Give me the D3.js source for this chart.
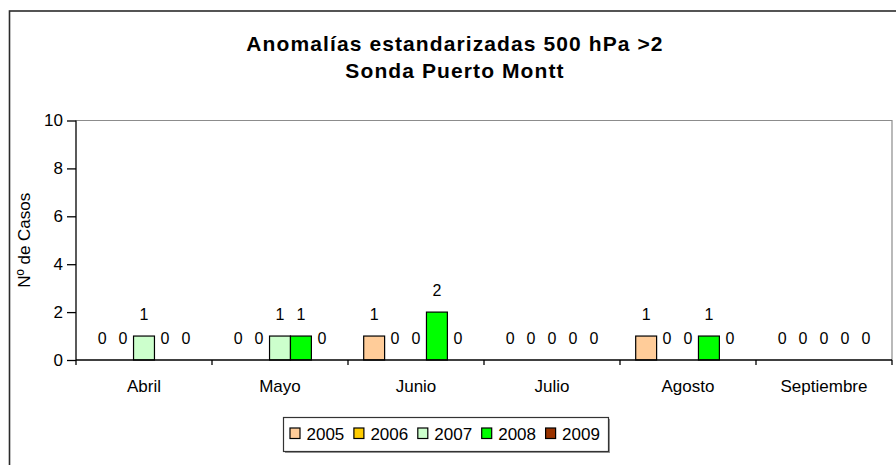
<!DOCTYPE html>
<html>
<head>
<meta charset="utf-8">
<script src="https://cdn.jsdelivr.net/npm/d3@7"></script>
<style>
  body { margin: 0; background: #fff; }
  svg text { font-family: Arial, "Liberation Sans", sans-serif; fill: #000; }
</style>
</head>
<body>
<div id="chart"></div>
<script>
// data
var months = ["Abril", "Mayo", "Junio", "Julio", "Agosto", "Septiembre"];
var years = ["2005", "2006", "2007", "2008", "2009"];
var colors = ["#FFCC99", "#FFCC00", "#CCFFCC", "#00FF00", "#993300"];
var v2005 = [0, 0, 1, 0, 1, 0];
var v2006 = [0, 0, 0, 0, 0, 0];
var v2007 = [1, 1, 0, 0, 0, 0];
var v2008 = [0, 1, 2, 0, 1, 0];
var v2009 = [0, 0, 0, 0, 0, 0];
var yTicks = [0, 2, 4, 6, 8, 10];

var series = [v2005, v2006, v2007, v2008, v2009];

var W = 896, H = 465;
var plot = {left: 76, right: 892, top: 120.5, bottom: 360};

var svg = d3.select("#chart").append("svg")
    .attr("width", W)
    .attr("height", H);

// outer chart frame (runs past right and bottom edge)
svg.append("rect")
    .attr("x", 9.5).attr("y", 11)
    .attr("width", 900).attr("height", 470)
    .attr("fill", "none")
    .attr("stroke", "#2b2b2b")
    .attr("stroke-width", 1.6);

// title
var title = svg.append("text")
    .attr("text-anchor", "middle")
    .style("font-weight", "bold")
    .style("font-size", "21px")
    .style("letter-spacing", "1.1px");
title.append("tspan").attr("x", 455).attr("y", 51).text("Anomalías estandarizadas 500 hPa >2");
title.append("tspan").attr("x", 455).attr("y", 78).text("Sonda Puerto Montt");

var x0 = d3.scaleBand()
    .domain(months)
    .range([plot.left, plot.right])
    .padding(0);

var x1 = d3.scaleBand()
    .domain(years)
    .range([0, x0.bandwidth()])
    .paddingInner(0)
    .paddingOuter(0.75);

var y = d3.scaleLinear()
    .domain([0, 10])
    .range([plot.bottom, plot.top]);

// plot area border (top and right)
svg.append("path")
    .attr("d", "M" + plot.left + "," + y(10) + "H" + plot.right + "V" + plot.bottom)
    .attr("fill", "none")
    .attr("stroke", "#8c8c8c")
    .attr("stroke-width", 1.2);

// bars
var groups = svg.selectAll(".month")
    .data(months)
    .enter()
    .append("g")
    .attr("class", "month")
    .attr("transform", function(d) { return "translate(" + x0(d) + ",0)"; });

groups.selectAll("rect")
    .data(function(m, i) {
        return years.map(function(yr, j) { return {year: yr, j: j, v: series[j][i]}; });
    })
    .enter()
    .filter(function(d) { return d.v > 0; })
    .append("rect")
    .attr("x", function(d) { return x1(d.year); })
    .attr("y", function(d) { return y(d.v); })
    .attr("width", x1.bandwidth())
    .attr("height", function(d) { return y(0) - y(d.v); })
    .attr("fill", function(d) { return colors[d.j]; })
    .attr("stroke", "#000")
    .attr("stroke-width", 1.2);

// value labels
groups.selectAll("text")
    .data(function(m, i) {
        return years.map(function(yr, j) { return {year: yr, j: j, v: series[j][i]}; });
    })
    .enter()
    .append("text")
    .attr("x", function(d) { return x1(d.year) + x1.bandwidth() / 2; })
    .attr("y", function(d) { return y(d.v) - 16; })
    .attr("text-anchor", "middle")
    .style("font-size", "16px")
    .text(function(d) { return d.v; });

// y axis
var yAxis = svg.append("g")
    .attr("transform", "translate(" + plot.left + ",0)")
    .call(d3.axisLeft(y).tickValues(yTicks).tickSize(9).tickPadding(4));
yAxis.selectAll("text").style("font-size", "17px").attr("fill", "#000");
yAxis.selectAll("line,path").attr("stroke", "#000").attr("stroke-width", 1.3);
yAxis.select(".domain").attr("d", "M0," + y(10) + "V" + y(0));

// x axis: ticks at category boundaries
var xAxis = svg.append("g")
    .attr("transform", "translate(0," + plot.bottom + ")");
xAxis.append("line")
    .attr("x1", plot.left).attr("x2", plot.right)
    .attr("stroke", "#000").attr("stroke-width", 1.3);
xAxis.selectAll(".tk")
    .data(months.concat(["end"]))
    .enter()
    .append("line")
    .attr("class", "tk")
    .attr("x1", function(d, i) { return i < months.length ? x0(d) : plot.right; })
    .attr("x2", function(d, i) { return i < months.length ? x0(d) : plot.right; })
    .attr("y1", 0).attr("y2", 5)
    .attr("stroke", "#000").attr("stroke-width", 1.3);
xAxis.selectAll(".lbl")
    .data(months)
    .enter()
    .append("text")
    .attr("class", "lbl")
    .attr("x", function(d) { return x0(d) + x0.bandwidth() / 2; })
    .attr("y", 32)
    .attr("text-anchor", "middle")
    .style("font-size", "17px")
    .text(function(d) { return d; });

// y axis title
svg.append("text")
    .attr("transform", "translate(30," + ((plot.top + plot.bottom) / 2) + ") rotate(-90)")
    .attr("text-anchor", "middle")
    .style("font-size", "17px")
    .text("Nº de Casos");

// legend
var lg = svg.append("g");
lg.append("rect")
    .attr("x", 285).attr("y", 419)
    .attr("width", 325).attr("height", 34)
    .attr("fill", "#999");
lg.append("rect")
    .attr("x", 283.5).attr("y", 417.5)
    .attr("width", 325).attr("height", 34)
    .attr("fill", "#fff")
    .attr("stroke", "#333")
    .attr("stroke-width", 1.2);

var items = lg.selectAll(".item")
    .data(years)
    .enter()
    .append("g")
    .attr("class", "item")
    .attr("transform", function(d, i) { return "translate(" + (290 + i * 63.9) + ",428)"; });
items.append("rect")
    .attr("width", 10).attr("height", 10.5)
    .attr("fill", function(d, i) { return colors[i]; })
    .attr("stroke", "#000")
    .attr("stroke-width", 1.2);
items.append("text")
    .attr("x", 16.5).attr("y", 11.5)
    .style("font-size", "17px")
    .text(function(d) { return d; });
</script>
</body>
</html>
